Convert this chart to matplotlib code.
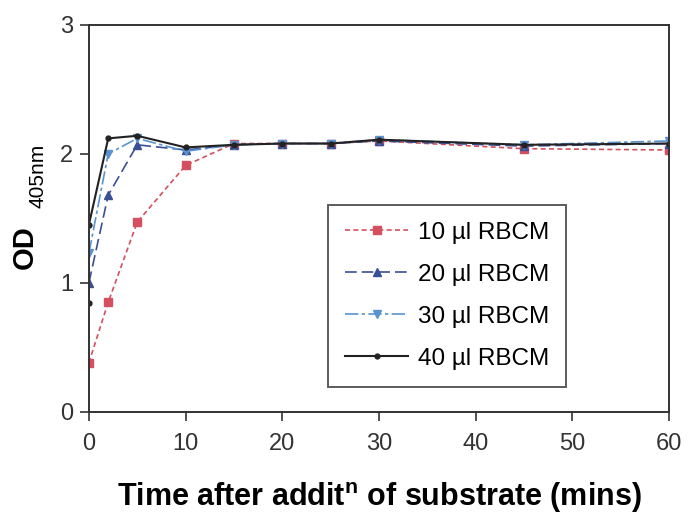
import numpy as np
import matplotlib
matplotlib.use("Agg")
import matplotlib.pyplot as plt

plt.rcParams['font.family'] = ['Liberation Sans', 'DejaVu Sans']
plt.rcParams['mathtext.fontset'] = 'custom'
plt.rcParams['mathtext.rm'] = 'Liberation Sans'
plt.rcParams['mathtext.bf'] = 'Liberation Sans:bold'

# data
t = [0, 2, 5, 10, 15, 20, 25, 30, 45, 60]
t40 = [0, 0, 2, 5, 10, 15, 20, 25, 30, 45, 60]
od10 = [0.38, 0.85, 1.47, 1.91, 2.08, 2.08, 2.08, 2.10, 2.04, 2.03]
od20 = [1.00, 1.68, 2.07, 2.03, 2.07, 2.08, 2.08, 2.10, 2.06, 2.08]
od30 = [1.23, 2.00, 2.12, 2.02, 2.07, 2.08, 2.08, 2.11, 2.07, 2.10]
od40 = [0.84, 1.45, 2.12, 2.14, 2.05, 2.07, 2.08, 2.08, 2.11, 2.07, 2.08]
labels = [u"10 \u00b5l RBCM", u"20 \u00b5l RBCM", u"30 \u00b5l RBCM", u"40 \u00b5l RBCM"]

fig = plt.figure(figsize=(6.89, 5.18), dpi=100)
ax = fig.add_axes([0.129, 0.205, 0.842, 0.747])

ax.plot(t, od10, color='#d4505e', ls=(0, (3, 2)), lw=1.2, marker='s', ms=6, label=labels[0])
ax.plot(t, od20, color='#3b4f94', ls=(0, (7, 3)), lw=1.2, marker='^', ms=6, label=labels[1])
ax.plot(t, od30, color='#5a93d0', ls=(0, (8, 2, 2, 2)), lw=1.2, marker='v', ms=6, label=labels[2])
ax.plot(t40, od40, color='#222222', ls='-', lw=1.5, marker='o', ms=3.5, label=labels[3])

ax.set_xlim(0, 60)
ax.set_ylim(0, 3)
ax.set_xticks(range(0, 61, 10))
ax.set_yticks([0, 1, 2, 3])
ax.tick_params(labelsize=17, length=6.5, width=1.2, colors='#333333')
ax.tick_params(axis='x', pad=9)
ax.tick_params(axis='y', pad=5)
for s in ax.spines.values():
    s.set_linewidth(1.4)
    s.set_color('#333333')

leg = ax.legend(loc='upper left', bbox_to_anchor=(0.412, 0.535), fontsize=17.5,
                frameon=True, fancybox=False, edgecolor='#333333',
                handlelength=2.6, handletextpad=0.4, labelspacing=0.82,
                borderpad=0.7, borderaxespad=0)
leg.get_frame().set_linewidth(1.4)

ax.set_xlabel(r'Time after addit$^{\mathbf{n}}$ of substrate (mins)',
              fontsize=22, fontweight='bold', labelpad=18)
fig.text(0.036, 0.523, 'OD', rotation=90, fontsize=21, fontweight='bold',
         ha='center', va='center')
fig.text(0.055, 0.66, '405nm', rotation=90, fontsize=15,
         ha='center', va='center')

fig.savefig('out.png', dpi=100)
